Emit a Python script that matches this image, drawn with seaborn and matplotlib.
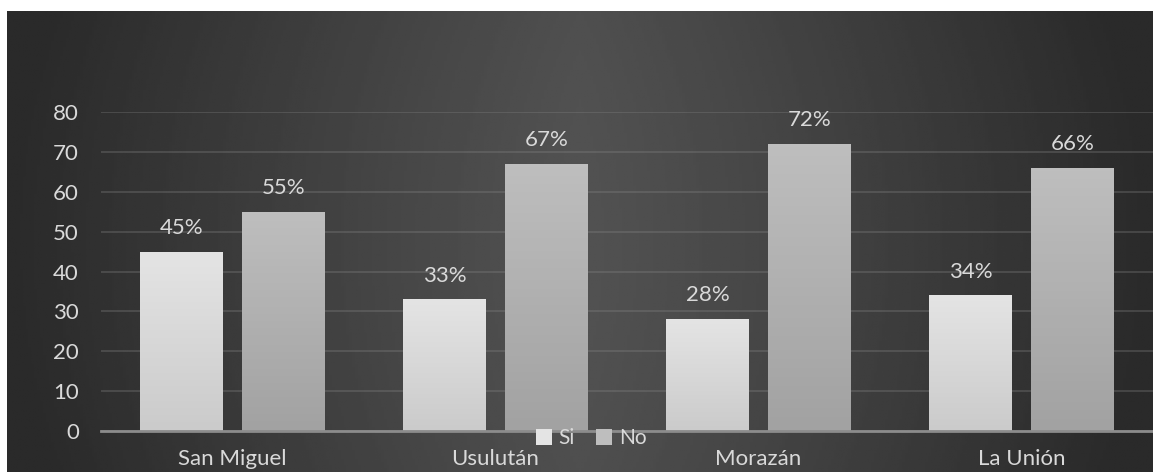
import numpy as np
import pandas as pd
import matplotlib
matplotlib.use('Agg')
import matplotlib.pyplot as plt
import seaborn as sns
from matplotlib.colors import LinearSegmentedColormap
from matplotlib.patches import Patch

# data
departamentos = ['San Miguel', 'Usulután', 'Morazán', 'La Unión']
si_values = [45, 33, 28, 34]
no_values = [55, 67, 72, 66]
respuestas = ['Si', 'No']
y_ticks = [0, 10, 20, 30, 40, 50, 60, 70, 80]

df = pd.DataFrame({
    'departamento': departamentos * 2,
    'valor': si_values + no_values,
    'respuesta': ['Si'] * len(si_values) + ['No'] * len(no_values),
})

sns.set_style('white')
plt.rcParams['font.family'] = ['Lato', 'DejaVu Sans']

text_color = '#d9d9d9'
bar_top = {'Si': '#e4e4e4', 'No': '#bebebe'}
bar_bottom = {'Si': '#cbcbcb', 'No': '#a2a2a2'}

W, H = 1153, 472
fig = plt.figure(figsize=(W / 100, H / 100), dpi=100)
fig.patch.set_facecolor('white')

# dark chart area with soft horizontal gradient
bg_ax = fig.add_axes([7 / W, 0, 1 - 7 / W, 1 - 11 / H], zorder=0)
xx = np.linspace(-1, 1, 400)
yy = np.linspace(-1, 1, 160)
gx, gy = np.meshgrid(xx, yy)
shade = 42 + 40 * np.clip(1 - np.abs(gx) ** 1.1 - 0.08 * gy ** 2, 0, 1)
bg_ax.imshow(shade, cmap='gray', vmin=0, vmax=255, aspect='auto')
bg_ax.axis('off')

ax = fig.add_axes([101 / W, 1 - 431 / H, (W - 101) / W, (431 - 112) / H], zorder=1)
ax.patch.set_alpha(0)

sns.barplot(data=df, x='departamento', y='valor', hue='respuesta', hue_order=respuestas,
            palette={'Si': bar_top['Si'], 'No': bar_top['No']},
            width=0.776, gap=0.187, linewidth=0, legend=False, ax=ax, zorder=3)

# vertical gradient on each bar
for resp, container in zip(respuestas, ax.containers):
    cmap = LinearSegmentedColormap.from_list(resp, [bar_top[resp], bar_bottom[resp]])
    for bar in container:
        x0, w, h = bar.get_x(), bar.get_width(), bar.get_height()
        im = ax.imshow(np.linspace(0, 1, 64).reshape(-1, 1), cmap=cmap, aspect='auto',
                       extent=[x0, x0 + w, 0, h], origin='upper', zorder=4)
        im.set_clip_path(bar)
    ax.bar_label(container, fmt='{:.0f}%', padding=10, color=text_color, fontsize=16)

ax.set_xlim(-0.5, len(departamentos) - 0.5)
ax.set_ylim(0, 80)
ax.set_yticks(y_ticks)
ax.grid(axis='y', color='#8a8a8a', alpha=0.35, lw=1.2, zorder=1)
ax.set_axisbelow(True)
for side in ['top', 'right', 'left']:
    ax.spines[side].set_visible(False)
ax.spines['bottom'].set_color('#8c8c8c')
ax.spines['bottom'].set_linewidth(2)
ax.spines['bottom'].set_zorder(5)
ax.tick_params(axis='x', length=0, pad=13, labelsize=16, colors=text_color)
ax.tick_params(axis='y', length=0, pad=16, labelsize=16, colors=text_color)
ax.set_xlabel('')
ax.set_ylabel('')

handles = [Patch(facecolor=bar_top[r], edgecolor='none', label=r) for r in respuestas]
fig.legend(handles=handles, loc='center', bbox_to_anchor=(591 / W, 1 - 438 / H), ncol=2,
           frameon=False, handlelength=0.8, handleheight=0.8, handletextpad=0.3,
           columnspacing=1.0, fontsize=15, labelcolor=text_color)

fig.savefig('out.png', dpi=100)
